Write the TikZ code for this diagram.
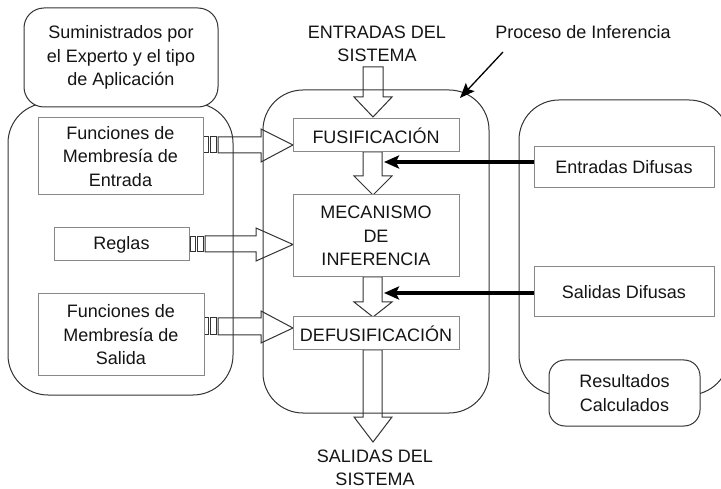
\documentclass[tikz,border=0pt]{standalone}
\usepackage{fontspec}
\setmainfont{Liberation Sans}
\usetikzlibrary{arrows.meta}
\definecolor{boxgray}{HTML}{888888}
\definecolor{linegray}{HTML}{333333}
\definecolor{txt}{HTML}{151515}
\tikzset{
  txtstyle/.style={font=\fontsize{18}{23.5}\selectfont, text=txt, align=center, inner sep=0pt},
  inbox/.style={draw=boxgray, line width=1pt, fill=white},
  bigbox/.style={draw=linegray, line width=1pt, rounded corners=40pt},
  hollow/.style={draw=linegray, line width=1pt, fill=white, line join=miter},
  thickarrow/.style={line width=3.2pt, black, -{Stealth[length=15pt,width=13pt,inset=3pt]}},
  thinarrow/.style={line width=1.3pt, black, -{Stealth[length=15pt,width=12pt,inset=3pt]}},
  plug/.style={draw=linegray, line width=1pt, fill=white}
}
\begin{document}
\begin{tikzpicture}[x=1pt,y=-1pt]
\useasboundingbox (0,0) rectangle (721,489);
\fill[white] (0,0) rectangle (721,489);

% hollow down arrows
\draw[hollow] (363,67) -- (383,67) -- (383,97) -- (392,97) -- (373,117) -- (354,97) -- (363,97) -- cycle;
\draw[hollow] (363,152) -- (382,152) -- (382,176) -- (392,176) -- (373,195) -- (354,176) -- (363,176) -- cycle;
\draw[hollow] (363,277) -- (382,277) -- (382,302) -- (392,302) -- (373,317) -- (354,302) -- (363,302) -- cycle;
\draw[hollow] (363,350) -- (382,350) -- (382,417) -- (392,417) -- (373,442) -- (354,417) -- (363,417) -- cycle;

% hollow right arrows
\draw[hollow] (218,137) -- (261,137) -- (261,129) -- (293,145) -- (261,162) -- (261,153) -- (218,153) -- cycle;
\draw[hollow] (205,236) -- (256,236) -- (256,228) -- (293,244.5) -- (256,261) -- (256,252) -- (205,252) -- cycle;
\draw[hollow] (218,318) -- (261,318) -- (261,311) -- (293,328) -- (261,343) -- (261,335) -- (218,335) -- cycle;

% plugs
\draw[plug] (203,137) rectangle (208.5,153);
\draw[plug] (210.5,137) rectangle (216,153);
\draw[plug] (190,236.5) rectangle (195.5,252);
\draw[plug] (197.5,236.5) rectangle (203,252);
\draw[plug] (203,318) rectangle (208.5,335);
\draw[plug] (210.5,318) rectangle (216,335);

% big rounded containers
\draw[bigbox] (8,103) rectangle (233,395);
\draw[bigbox] (263,90) rectangle (489,413);
\draw[bigbox] (519,100) rectangle (729,395);

% top-left rounded box
\node[draw=linegray, line width=1pt, fill=white, rounded corners=20pt, minimum width=194pt, minimum height=99pt, txtstyle] (sum) at (121,57.5) {Suministrados por\\el Experto y el tipo\\de Aplicación};

% results box
\node[draw=linegray, line width=1pt, fill=white, rounded corners=16pt, minimum width=151pt, minimum height=66pt, txtstyle] (res) at (624.5,393) {Resultados\\Calculados};

% left inner boxes
\node[inbox, minimum width=165pt, minimum height=77pt, txtstyle] (fme) at (120.5,156.5) {Funciones de\\Membresía de\\Entrada};
\node[inbox, minimum width=135pt, minimum height=33pt, txtstyle] (reg) at (121.5,244.5) {Reglas};
\node[inbox, minimum width=166pt, minimum height=82pt, txtstyle] (fms) at (121,335) {Funciones de\\Membresía de\\Salida};

% middle boxes
\node[inbox, minimum width=166pt, minimum height=33pt, txtstyle] (fus) at (376,135.5) {FUSIFICACIÓN};
\node[inbox, minimum width=166pt, minimum height=82pt, txtstyle] (mec) at (376,236) {MECANISMO\\DE\\INFERENCIA};
\node[inbox, minimum width=166pt, minimum height=33pt, txtstyle] (def) at (376,333.5) {DEFUSIFICACIÓN};

% right boxes
\node[inbox, minimum width=180pt, minimum height=41pt, txtstyle] (ed) at (624,167.5) {Entradas Difusas};
\node[inbox, minimum width=180pt, minimum height=50pt, txtstyle] (sd) at (624,292) {Salidas Difusas};

% labels
\node[txtstyle] (ent) at (377,44) {ENTRADAS DEL\\SISTEMA};
\node[txtstyle] (sal) at (375,468) {SALIDAS DEL\\SISTEMA};
\node[txtstyle] (proc) at (583,32) {Proceso de Inferencia};

% thick black arrows
\coordinate (edtip) at (384,162);
\coordinate (sdtip) at (384,293);
\draw[thickarrow] (ed.west |- edtip) -- (edtip);
\draw[thickarrow] (sd.west |- sdtip) -- (sdtip);

% annotation arrow
\coordinate (pa) at (503,52);
\coordinate (pb) at (460,98);
\draw[thinarrow] (pa) -- (pb);
\end{tikzpicture}
\end{document}
